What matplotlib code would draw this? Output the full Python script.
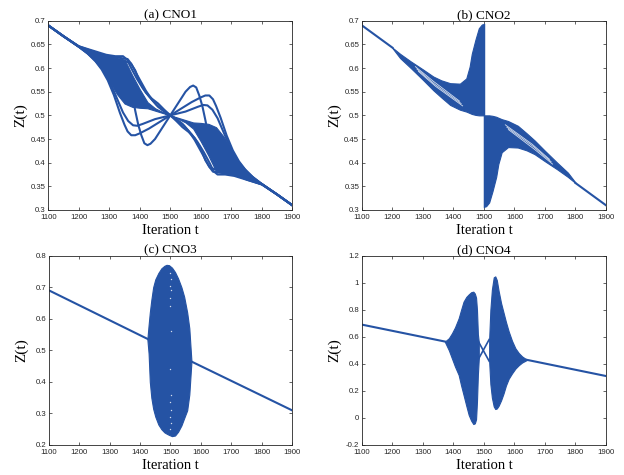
import matplotlib
matplotlib.use("Agg")
import matplotlib.pyplot as plt
import numpy as np

BLUE = '#2553A4'

# ---------------- data ----------------
x_ticks = [1100, 1200, 1300, 1400, 1500, 1600, 1700, 1800, 1900]
y_ticks_ab = [0.3, 0.35, 0.4, 0.45, 0.5, 0.55, 0.6, 0.65, 0.7]
y_labels_ab = ['0.3', '0.35', '0.4', '0.45', '0.5', '0.55', '0.6', '0.65', '0.7']
y_ticks_c = [0.2, 0.3, 0.4, 0.5, 0.6, 0.7, 0.8]
y_labels_c = ['0.2', '0.3', '0.4', '0.5', '0.6', '0.7', '0.8']
y_ticks_d = [-0.2, 0, 0.2, 0.4, 0.6, 0.8, 1.0, 1.2]
y_labels_d = ['-0.2', '0', '0.2', '0.4', '0.6', '0.8', '1', '1.2']
titles = ['(a) CNO1', '(b) CNO2', '(c) CNO3', '(d) CNO4']

# (a) CNO1 : dense bands
a_band1_t = [1200, 1225, 1250, 1275, 1300, 1325, 1350, 1375, 1400, 1425, 1450, 1475, 1500]
a_band1_hi = [0.646, 0.641, 0.636, 0.629, 0.623, 0.621, 0.618, 0.585, 0.555, 0.528, 0.515, 0.507, 0.500]
a_band1_lo = [0.644, 0.632, 0.617, 0.598, 0.572, 0.545, 0.525, 0.518, 0.516, 0.515, 0.510, 0.505, 0.500]
a_band2_t = [1500, 1525, 1550, 1575, 1600, 1625, 1650, 1675, 1700, 1725, 1750, 1775, 1800]
a_band2_hi = [0.500, 0.495, 0.490, 0.485, 0.484, 0.482, 0.475, 0.455, 0.428, 0.402, 0.383, 0.368, 0.356]
a_band2_lo = [0.500, 0.493, 0.485, 0.472, 0.445, 0.415, 0.382, 0.379, 0.377, 0.371, 0.364, 0.359, 0.354]
# (a) distinct trajectories
a_c1_t = [1100, 1150, 1200, 1250, 1290, 1320, 1340, 1355, 1365, 1375, 1385, 1395, 1405, 1415, 1425, 1435, 1450, 1470, 1500,
          1530, 1550, 1565, 1575, 1585, 1595, 1605, 1615, 1625, 1635, 1645, 1660, 1680, 1710, 1750, 1800, 1850, 1900]
a_c1_z = [0.690, 0.667, 0.645, 0.630, 0.617, 0.607, 0.598, 0.585, 0.567, 0.543, 0.510, 0.480, 0.458, 0.441, 0.437, 0.440, 0.450, 0.470, 0.500,
          0.530, 0.550, 0.560, 0.563, 0.559, 0.542, 0.520, 0.490, 0.457, 0.433, 0.415, 0.402, 0.393, 0.383, 0.370, 0.355, 0.333, 0.310]
a_c2_t = [1100, 1150, 1200, 1230, 1255, 1275, 1295, 1315, 1335, 1350, 1360, 1372, 1385, 1400, 1430, 1470, 1500,
          1530, 1570, 1600, 1615, 1628, 1640, 1650, 1665, 1685, 1705, 1725, 1745, 1770, 1800, 1850, 1900]
a_c2_z = [0.690, 0.667, 0.645, 0.630, 0.614, 0.597, 0.574, 0.543, 0.505, 0.480, 0.466, 0.458, 0.458, 0.462, 0.472, 0.488, 0.500,
          0.512, 0.528, 0.538, 0.542, 0.542, 0.534, 0.520, 0.495, 0.457, 0.426, 0.403, 0.386, 0.370, 0.355, 0.333, 0.310]
a_c3_t = [1100, 1150, 1200, 1250, 1290, 1320, 1345, 1358, 1370, 1390, 1410, 1430, 1455, 1480, 1500,
          1520, 1545, 1570, 1590, 1610, 1630, 1642, 1655, 1680, 1710, 1750, 1800, 1850, 1900]
a_c3_z = [0.690, 0.667, 0.646, 0.636, 0.628, 0.625, 0.625, 0.618, 0.602, 0.578, 0.557, 0.540, 0.522, 0.509, 0.500,
          0.491, 0.478, 0.460, 0.443, 0.422, 0.398, 0.382, 0.375, 0.375, 0.372, 0.364, 0.354, 0.333, 0.310]
a_c4_t = [1100, 1150, 1200, 1240, 1265, 1285, 1305, 1325, 1345, 1362, 1378, 1392, 1410, 1450, 1500,
          1550, 1590, 1608, 1622, 1638, 1655, 1675, 1695, 1715, 1735, 1760, 1800, 1850, 1900]
a_c4_z = [0.690, 0.667, 0.645, 0.626, 0.610, 0.592, 0.566, 0.536, 0.506, 0.488, 0.479, 0.478, 0.482, 0.492, 0.500,
          0.508, 0.518, 0.522, 0.521, 0.512, 0.494, 0.464, 0.434, 0.408, 0.390, 0.374, 0.355, 0.333, 0.310]
a_c5_t = [1100, 1150, 1200, 1250, 1300, 1340, 1360, 1373, 1390, 1420, 1440, 1460, 1480, 1500,
          1520, 1540, 1560, 1580, 1610, 1627, 1640, 1660, 1700, 1750, 1800, 1850, 1900]
a_c5_z = [0.690, 0.667, 0.646, 0.634, 0.624, 0.621, 0.619, 0.608, 0.587, 0.552, 0.533, 0.518, 0.508, 0.500,
          0.492, 0.482, 0.467, 0.448, 0.413, 0.392, 0.381, 0.379, 0.376, 0.366, 0.354, 0.333, 0.310]
a_c6_t = [1100, 1200, 1300, 1350, 1370, 1385, 1400, 1420, 1440, 1460, 1480, 1500,
          1520, 1540, 1560, 1580, 1600, 1615, 1630, 1650, 1700, 1800, 1900]
a_c6_z = [0.690, 0.645, 0.620, 0.615, 0.610, 0.595, 0.570, 0.548, 0.535, 0.525, 0.512, 0.500,
          0.488, 0.475, 0.465, 0.452, 0.430, 0.405, 0.390, 0.385, 0.380, 0.355, 0.310]

# (b) CNO2
b_line1_t = [1100, 1200]
b_line1_z = [0.690, 0.643]
b_band1_t = [1200, 1225, 1260, 1300, 1334, 1360, 1389, 1421, 1442, 1453, 1460, 1472, 1483, 1493, 1500]
b_band1_hi = [0.643, 0.630, 0.614, 0.597, 0.582, 0.574, 0.568, 0.567, 0.578, 0.603, 0.630, 0.660, 0.684, 0.692, 0.693]
b_band1_lo = [0.642, 0.621, 0.600, 0.575, 0.553, 0.538, 0.522, 0.512, 0.508, 0.505, 0.503, 0.501, 0.500, 0.500, 0.500]
b_band2_t = [1500, 1507, 1517, 1528, 1540, 1547, 1558, 1579, 1611, 1640, 1666, 1700, 1740, 1775, 1800]
b_band2_hi = [0.500, 0.500, 0.500, 0.499, 0.497, 0.495, 0.492, 0.488, 0.478, 0.462, 0.447, 0.425, 0.400, 0.379, 0.358]
b_band2_lo = [0.307, 0.308, 0.316, 0.340, 0.370, 0.397, 0.422, 0.433, 0.432, 0.426, 0.418, 0.403, 0.386, 0.370, 0.357]
b_line2_t = [1800, 1900]
b_line2_z = [0.357, 0.310]
b_jump_t = [1500, 1500]
b_jump_z = [0.693, 0.307]
b_gaps = [
    ([1275, 1334, 1420], [0.603, 0.572, 0.530]),
    ([1280, 1338, 1425], [0.598, 0.566, 0.525]),
    ([1285, 1342, 1430], [0.593, 0.561, 0.520]),
    ([1580, 1666, 1725], [0.470, 0.428, 0.397]),
    ([1575, 1662, 1720], [0.475, 0.434, 0.402]),
    ([1570, 1658, 1715], [0.480, 0.439, 0.407]),
]

# (c) CNO3
c_line1_t = [1100, 1425]
c_line1_z = [0.690, 0.536]
c_line2_t = [1568, 1900]
c_line2_z = [0.465, 0.310]
c_blob_t = [1424, 1428, 1432, 1437, 1443, 1450, 1460, 1470, 1480, 1487, 1495, 1505, 1515, 1525, 1536, 1545, 1555, 1562, 1566, 1569]
c_blob_hi = [0.536, 0.58, 0.62, 0.66, 0.70, 0.725, 0.745, 0.76, 0.768, 0.771, 0.770, 0.762, 0.748, 0.728, 0.70, 0.67, 0.62, 0.57, 0.51, 0.466]
c_blob_lo = [0.534, 0.49, 0.40, 0.35, 0.315, 0.29, 0.265, 0.25, 0.24, 0.236, 0.232, 0.228, 0.230, 0.242, 0.262, 0.285, 0.31, 0.36, 0.42, 0.464]
c_spk_t = [1500, 1501, 1499, 1502, 1500, 1498, 1501, 1500, 1502, 1499, 1501, 1500, 1503, 1499]
c_spk_z = [0.745, 0.725, 0.705, 0.69, 0.665, 0.64, 0.56, 0.44, 0.36, 0.335, 0.31, 0.29, 0.27, 0.25]

# (d) CNO4
d_line1_t = [1100, 1372]
d_line1_z = [0.690, 0.565]
d_line2_t = [1640, 1900]
d_line2_z = [0.430, 0.310]
d_lobe1_t = [1372, 1385, 1395, 1405, 1417, 1425, 1433, 1442, 1450, 1458, 1465, 1470, 1474, 1477, 1480, 1483]
d_lobe1_hi = [0.565, 0.59, 0.626, 0.67, 0.737, 0.80, 0.86, 0.895, 0.914, 0.93, 0.934, 0.92, 0.89, 0.80, 0.62, 0.56]
d_lobe1_lo = [0.562, 0.50, 0.44, 0.38, 0.318, 0.24, 0.17, 0.09, 0.022, -0.02, -0.045, -0.04, -0.01, 0.12, 0.32, 0.44]
d_lobe2_t = [1517, 1521, 1526, 1532, 1537, 1542, 1548, 1556, 1564, 1572, 1581, 1592, 1603, 1614, 1625, 1640]
d_lobe2_hi = [0.58, 0.80, 0.95, 1.04, 1.047, 1.02, 0.94, 0.85, 0.78, 0.71, 0.64, 0.57, 0.515, 0.48, 0.455, 0.432]
d_lobe2_lo = [0.42, 0.25, 0.15, 0.085, 0.066, 0.07, 0.09, 0.13, 0.18, 0.24, 0.29, 0.33, 0.365, 0.39, 0.410, 0.428]
d_cross = [
    ([1483, 1517], [0.56, 0.42]),
    ([1483, 1517], [0.44, 0.58]),
]

# ---------------- figure ----------------
fig = plt.figure(figsize=(6.24, 4.75), dpi=100)
positions = [
    [0.0774, 0.5579, 0.3910, 0.3985],
    [0.5801, 0.5579, 0.3910, 0.3985],
    [0.0785, 0.0632, 0.3894, 0.3985],
    [0.5801, 0.0632, 0.3910, 0.3985],
]
axes = [fig.add_axes(p) for p in positions]
LW = 1.5

def style(ax, title, yt, yl, ylim):
    ax.set_xlim(1100, 1900)
    ax.set_ylim(*ylim)
    ax.set_xticks(x_ticks)
    ax.set_xticklabels([str(v) for v in x_ticks], fontsize=5.6,
                       family='Liberation Sans', color='#262626')
    ax.set_yticks(yt)
    ax.set_yticklabels(yl, fontsize=5.6, family='Liberation Sans', color='#262626')
    ax.tick_params(direction='in', length=2.5, width=0.5, top=True, right=True,
                   colors='#262626')
    ax.tick_params(axis='x', pad=2.6)
    ax.tick_params(axis='y', pad=2.0)
    for s in ax.spines.values():
        s.set_linewidth(0.6)
        s.set_color('#262626')
    ax.set_title(title, fontsize=9.5, family='Liberation Serif', pad=2)
    ax.set_xlabel('Iteration t', fontsize=10.5, family='Liberation Serif')
    ax.set_ylabel('Z(t)', fontsize=11, family='Liberation Serif')
    ax.xaxis.set_label_coords(0.5, -0.072)
    ax.yaxis.set_label_coords(-0.085, 0.5)

# (a)
ax = axes[0]
ax.fill_between(a_band1_t, a_band1_lo, a_band1_hi, color=BLUE, lw=0.8, ec=BLUE)
ax.fill_between(a_band2_t, a_band2_lo, a_band2_hi, color=BLUE, lw=0.8, ec=BLUE)
for t, z in [(a_c1_t, a_c1_z), (a_c2_t, a_c2_z), (a_c3_t, a_c3_z),
             (a_c4_t, a_c4_z), (a_c5_t, a_c5_z), (a_c6_t, a_c6_z)]:
    ax.plot(t, z, color=BLUE, lw=LW, solid_joinstyle='round')
style(ax, titles[0], y_ticks_ab, y_labels_ab, (0.3, 0.7))

# (b)
ax = axes[1]
ax.plot(b_line1_t, b_line1_z, color=BLUE, lw=LW)
ax.fill_between(b_band1_t, b_band1_lo, b_band1_hi, color=BLUE, lw=0.8, ec=BLUE)
ax.fill_between(b_band2_t, b_band2_lo, b_band2_hi, color=BLUE, lw=0.8, ec=BLUE)
ax.plot(b_line2_t, b_line2_z, color=BLUE, lw=LW)
ax.plot(b_jump_t, b_jump_z, color=BLUE, lw=1.0)
for t, z in b_gaps:
    ax.plot(t, z, color='white', lw=0.6, alpha=0.8)
style(ax, titles[1], y_ticks_ab, y_labels_ab, (0.3, 0.7))

# (c)
ax = axes[2]
ax.plot(c_line1_t, c_line1_z, color=BLUE, lw=LW)
ax.plot(c_line2_t, c_line2_z, color=BLUE, lw=LW)
ax.fill_between(c_blob_t, c_blob_lo, c_blob_hi, color=BLUE, lw=0.8, ec=BLUE)
ax.plot(c_spk_t, c_spk_z, ls='none', marker='o', ms=1.0, mfc='white', mec='none', alpha=0.8)
style(ax, titles[2], y_ticks_c, y_labels_c, (0.2, 0.8))

# (d)
ax = axes[3]
ax.plot(d_line1_t, d_line1_z, color=BLUE, lw=LW)
ax.plot(d_line2_t, d_line2_z, color=BLUE, lw=LW)
ax.fill_between(d_lobe1_t, d_lobe1_lo, d_lobe1_hi, color=BLUE, lw=0.8, ec=BLUE)
ax.fill_between(d_lobe2_t, d_lobe2_lo, d_lobe2_hi, color=BLUE, lw=0.8, ec=BLUE)
for t, z in d_cross:
    ax.plot(t, z, color=BLUE, lw=1.2)
style(ax, titles[3], y_ticks_d, y_labels_d, (-0.2, 1.2))

fig.savefig('out.png', dpi=100)
